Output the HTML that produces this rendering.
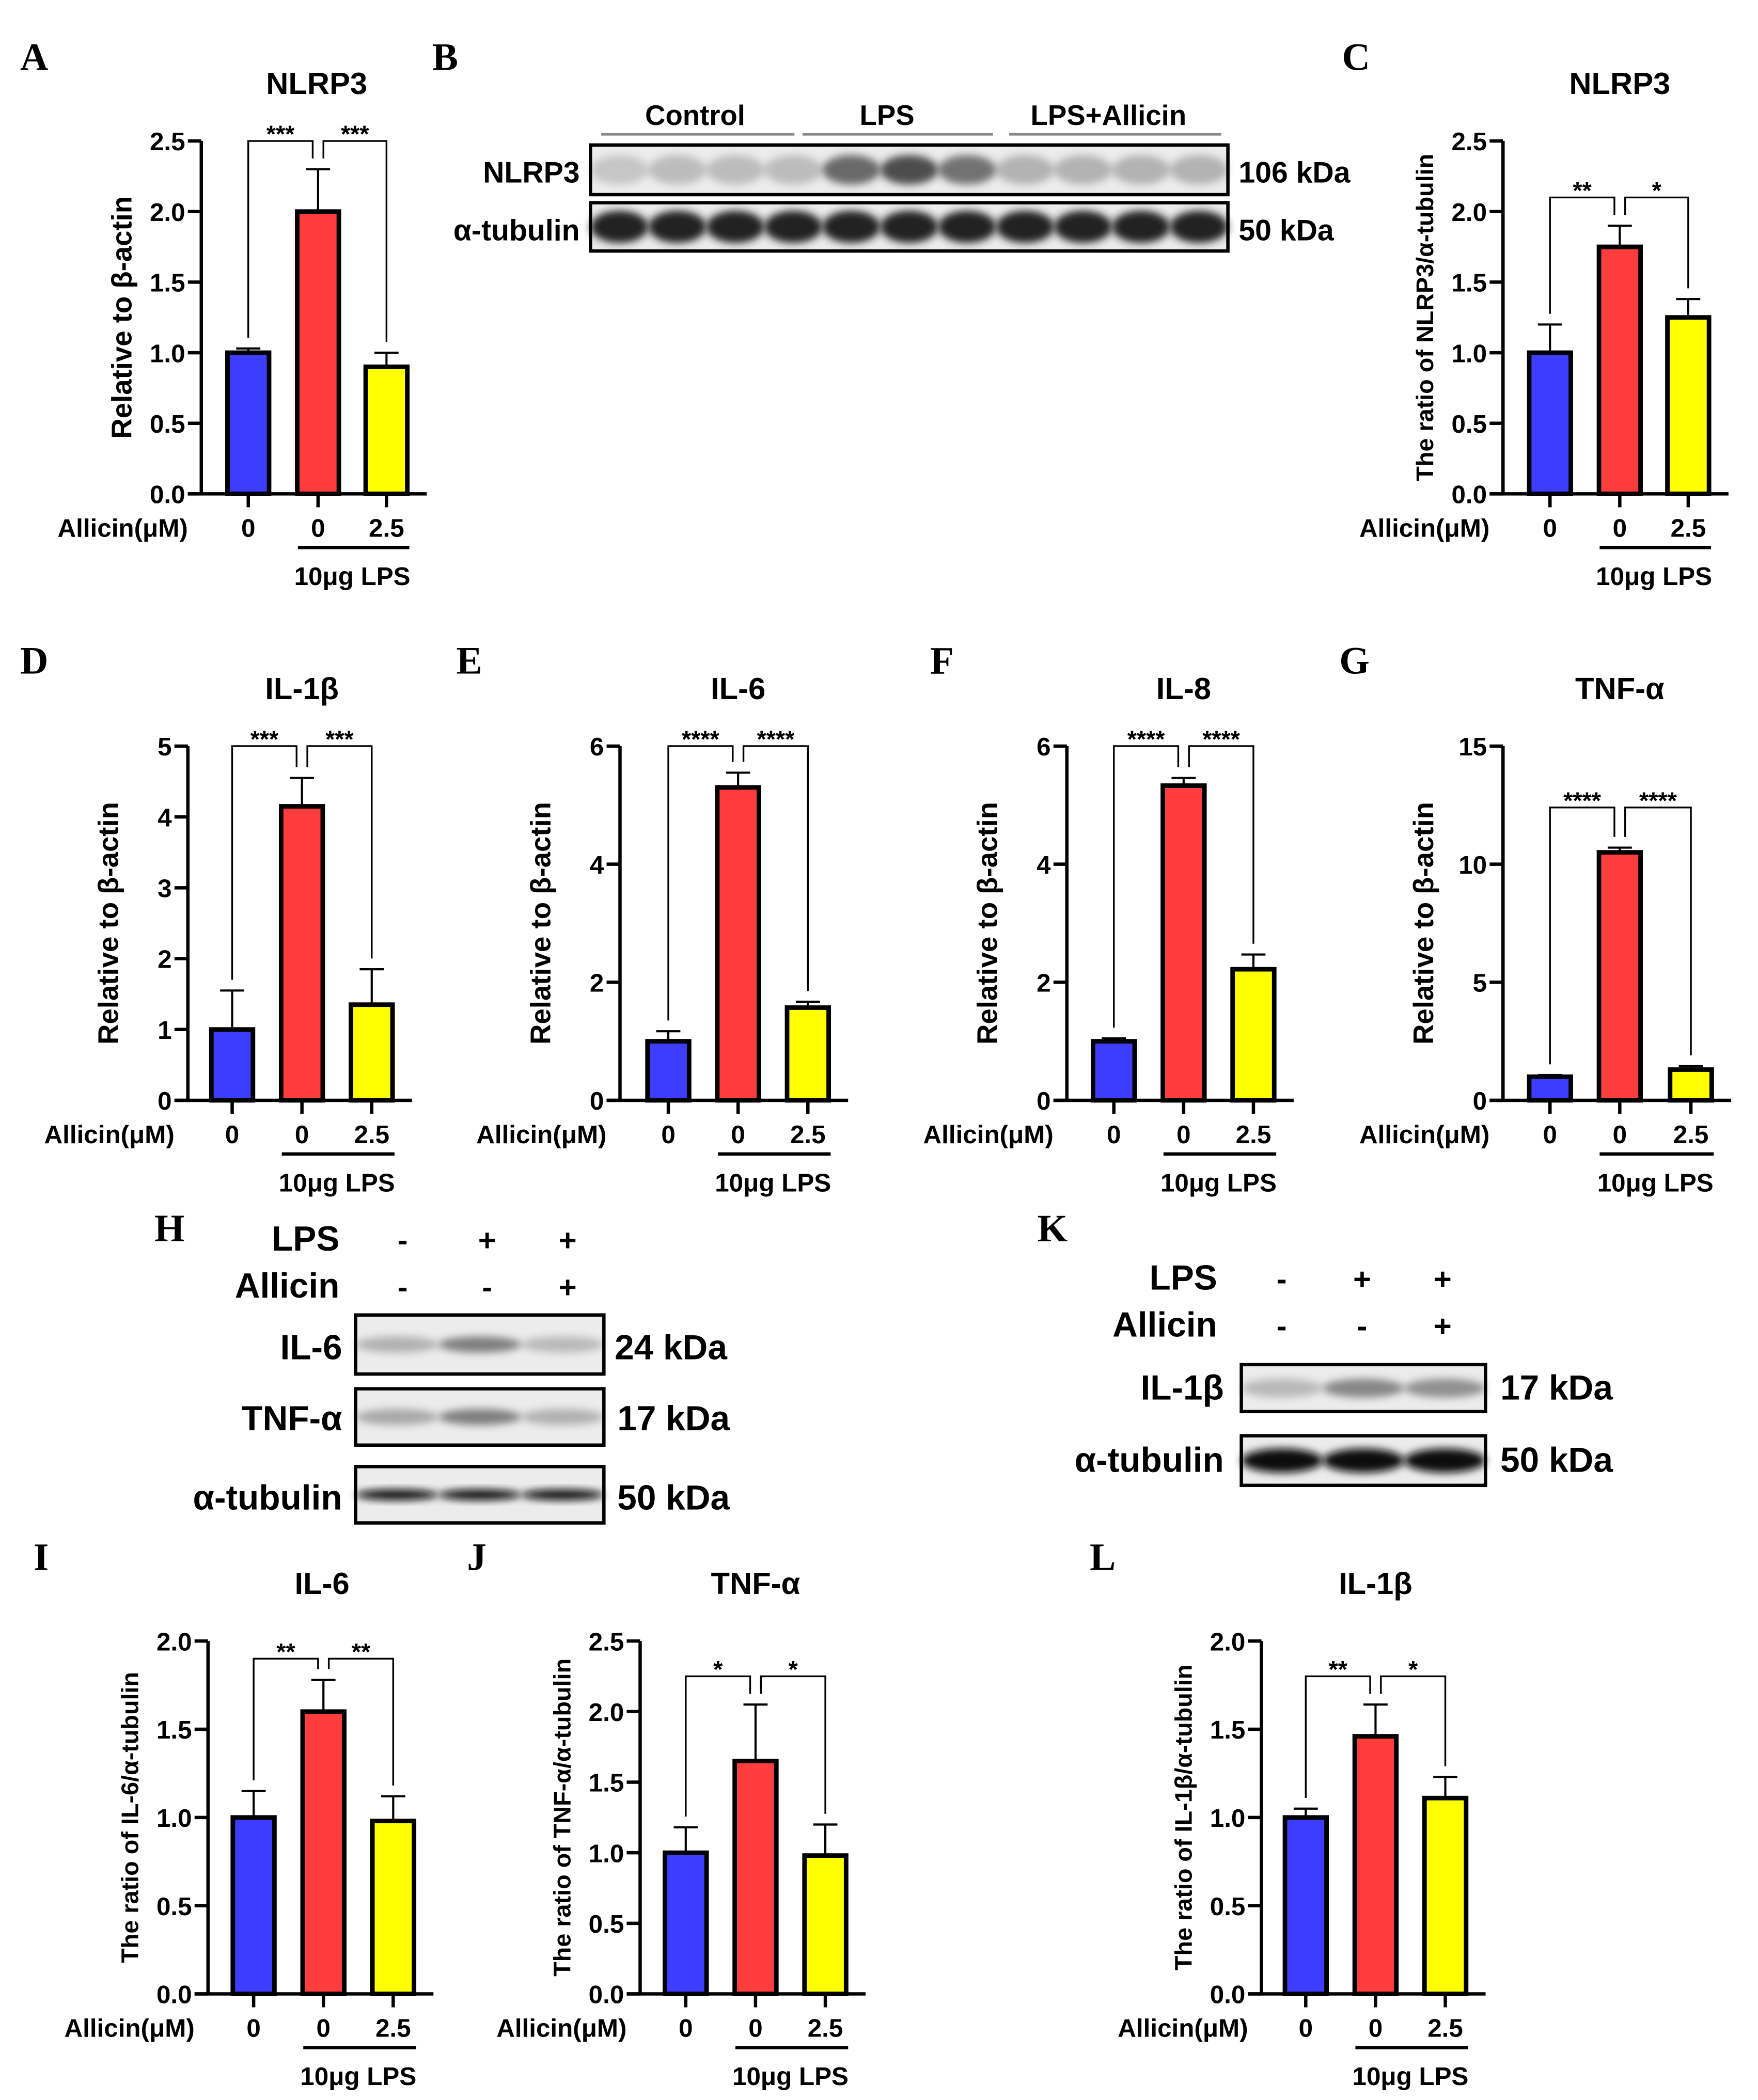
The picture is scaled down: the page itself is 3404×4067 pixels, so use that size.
<!DOCTYPE html>
<html><head><meta charset="utf-8">
<style>
html,body{margin:0;padding:0;background:#fff;}
svg{display:block;}
text{font-family:"Liberation Sans",Arial,sans-serif;font-weight:bold;fill:#000;}
.let{font-family:"Liberation Serif",serif;font-size:29px;}
</style></head>
<body>
<svg id="fig" width="3404" height="4067" viewBox="0 0 1310 1565" xmlns="http://www.w3.org/2000/svg">
<defs>
<filter id="blur" x="-50%" y="-50%" width="200%" height="200%"><feGaussianBlur stdDeviation="3"/></filter>
</defs>
<g id="root"></g>
</svg>
<script>
// ---- data ----
const groupLabels = ["0", "0", "2.5"];
const aValues = [1.0, 2.0, 0.9];
const aErrors = [0.03, 0.3, 0.1];
const aSig = ["***", "***"];
const cValues = [1.0, 1.75, 1.25];
const cErrors = [0.2, 0.15, 0.13];
const cSig = ["**", "*"];
const dValues = [1.0, 4.15, 1.35];
const dErrors = [0.55, 0.4, 0.5];
const dSig = ["***", "***"];
const eValues = [1.0, 5.3, 1.57];
const eErrors = [0.17, 0.25, 0.1];
const eSig = ["****", "****"];
const fValues = [1.0, 5.33, 2.22];
const fErrors = [0.05, 0.13, 0.25];
const fSig = ["****", "****"];
const gValues = [1.0, 10.5, 1.3];
const gErrors = [0.07, 0.2, 0.15];
const gSig = ["****", "****"];
const iValues = [1.0, 1.6, 0.98];
const iErrors = [0.15, 0.18, 0.14];
const iSig = ["**", "**"];
const jValues = [1.0, 1.65, 0.98];
const jErrors = [0.18, 0.4, 0.22];
const jSig = ["*", "*"];
const lValues = [1.0, 1.46, 1.11];
const lErrors = [0.05, 0.18, 0.12];
const lSig = ["**", "*"];
const ticks25 = ["0.0","0.5","1.0","1.5","2.0","2.5"];
const ticks20 = ["0.0","0.5","1.0","1.5","2.0"];
const ticks5 = ["0","1","2","3","4","5"];
const ticks6 = ["0","2","4","6"];
const ticks15 = ["0","5","10","15"];

const NS = "http://www.w3.org/2000/svg";
const root = document.getElementById('root');
function el(tag, attrs, parent, txt){
  const e = document.createElementNS(NS, tag);
  for (const k in attrs) e.setAttribute(k, attrs[k]);
  if (txt !== undefined) e.textContent = txt;
  (parent || root).appendChild(e);
  return e;
}
function txt(x,y,s,size,anchor,parent,extra){
  const a = {x:x,y:y,'font-size':size,'text-anchor':anchor||'middle'};
  if (extra) for (const k in extra) a[k]=extra[k];
  return el('text',a,parent,s);
}
const colors = ["#3d3dff","#ff3d3d","#ffff00"];

function chart(p){
  const g = el('g',{});
  
  
  const y = v => p.y0 - (v / p.max) * (p.y0 - p.yTop);
  const t = txt(p.xc, p.yTop - 35, p.title, 23, 'middle', g);
  
  
  const yl = txt(0,0,p.ylabel,p.ylSize||21,'middle',g,{transform:`translate(${p.ax-52},${(p.y0+p.yTop)/2}) rotate(-90)`});
  
  
  const n = p.ticks.length;
  p.ticks.forEach((lab,i)=>{
    const v = p.max * i/(n-1);
    const yy = y(v);
    el('line',{x1:p.ax-10,x2:p.ax,y1:yy,y2:yy,stroke:'#000','stroke-width':2.5},g);
    const tl = txt(p.ax-12, yy+7, lab, 19, 'end', g);
    
    
  });
  const bw = 31;
  p.values.forEach((v,i)=>{
    const cx = p.bars[i];
    const e = p.errors[i];
    el('line',{x1:cx,x2:cx,y1:y(v),y2:y(v+e),stroke:'#000','stroke-width':1.6},g);
    el('line',{x1:cx-9,x2:cx+9,y1:y(v+e),y2:y(v+e),stroke:'#000','stroke-width':1.6},g);
    const r = el('rect',{x:cx-bw/2,y:y(v),width:bw,height:p.y0-y(v),fill:colors[i],stroke:'#000','stroke-width':3.4},g);
    
    
    el('line',{x1:cx,x2:cx,y1:p.y0,y2:p.y0+10,stroke:'#000','stroke-width':2.5},g);
    const xl = txt(cx, p.y0+32, groupLabels[i], 19, 'middle', g);
    
    
  });
  el('line',{x1:p.ax,x2:p.ax,y1:p.yTop,y2:p.y0+1,stroke:'#000','stroke-width':2.5},g);
  el('line',{x1:p.ax-10,x2:p.bars[2]+30,y1:p.y0,y2:p.y0,stroke:'#000','stroke-width':2.5},g);
  const al = txt(p.ax-10, p.y0+32, 'Allicin(μM)', 19, 'end', g);
  
  
  el('line',{x1:p.bars[1]-15,x2:p.bars[2]+17,y1:p.y0+40,y2:p.y0+40,stroke:'#000','stroke-width':2.5},g);
  const lp = txt((p.bars[1]+p.bars[2])/2, p.y0+68, '10μg LPS', 19, 'middle', g);
  
  
  const by = y(p.brk);
  const gap = 8;
  const pairs = [[0,1],[1,2]];
  pairs.forEach((pr,k)=>{
    const x1 = pr[0]===1 ? p.bars[1]+4 : p.bars[pr[0]];
    const x2 = pr[1]===1 ? p.bars[1]-4 : p.bars[pr[1]];
    const y1 = Math.max(by+3, y(p.values[pr[0]]+p.errors[pr[0]])-gap);
    const y2 = Math.max(by+3, y(p.values[pr[1]]+p.errors[pr[1]])-gap);
    el('polyline',{points:`${x1},${y1} ${x1},${by} ${x2},${by} ${x2},${y2}`,fill:'none',stroke:'#000','stroke-width':1.3},g);
    const s = txt((x1+x2)/2, by+1, p.sig[k], 18, 'middle', g, {'font-weight':'normal'});
    
    
  });
}

chart({name:'chart-a-nlrp3',title:'NLRP3',ylabel:'Relative to β-actin',ax:150,y0:368,yTop:105,max:2.5,ticks:ticks25,bars:[185,237,288],values:aValues,errors:aErrors,sig:aSig,brk:2.5,xc:236});
chart({name:'chart-c-nlrp3-ratio',title:'NLRP3',ylabel:'The ratio of NLRP3/α-tubulin',ylSize:18,ax:1120,y0:368,yTop:105,max:2.5,ticks:ticks25,bars:[1155,1207,1258],values:cValues,errors:cErrors,sig:cSig,brk:2.1,xc:1207});
chart({name:'chart-d-il1b',title:'IL-1β',ylabel:'Relative to β-actin',ax:140,y0:820,yTop:556,max:5,ticks:ticks5,bars:[173,225,277],values:dValues,errors:dErrors,sig:dSig,brk:5,xc:225});
chart({name:'chart-e-il6',title:'IL-6',ylabel:'Relative to β-actin',ax:462,y0:820,yTop:556,max:6,ticks:ticks6,bars:[498,550,602],values:eValues,errors:eErrors,sig:eSig,brk:6,xc:550});
chart({name:'chart-f-il8',title:'IL-8',ylabel:'Relative to β-actin',ax:795,y0:820,yTop:556,max:6,ticks:ticks6,bars:[830,882,934],values:fValues,errors:fErrors,sig:fSig,brk:6,xc:882});
chart({name:'chart-g-tnfa',title:'TNF-α',ylabel:'Relative to β-actin',ax:1120,y0:820,yTop:556,max:15,ticks:ticks15,bars:[1155,1207,1260],values:gValues,errors:gErrors,sig:gSig,brk:12.4,xc:1207});
chart({name:'chart-i-il6-ratio',title:'IL-6',ylabel:'The ratio of IL-6/α-tubulin',ylSize:18,ax:155,y0:1486,yTop:1223,max:2.0,ticks:ticks20,bars:[189,241,293],values:iValues,errors:iErrors,sig:iSig,brk:1.9,xc:240});
chart({name:'chart-j-tnfa-ratio',title:'TNF-α',ylabel:'The ratio of TNF-α/α-tubulin',ylSize:18,ax:477,y0:1486,yTop:1223,max:2.5,ticks:ticks25,bars:[511,563,615],values:jValues,errors:jErrors,sig:jSig,brk:2.25,xc:563});
chart({name:'chart-l-il1b-ratio',title:'IL-1β',ylabel:'The ratio of IL-1β/α-tubulin',ylSize:18,ax:940,y0:1486,yTop:1223,max:2.0,ticks:ticks20,bars:[973,1025,1077],values:lValues,errors:lErrors,sig:lSig,brk:1.8,xc:1025});

[['A',15,52],['B',322,52],['C',1000,52],['D',15,502],['E',340,502],['F',693,502],['G',998,502],['H',115,925],['K',773,925],['I',25,1170],['J',348,1170],['L',812,1170]].forEach(l=>{
  const t = txt(l[1],l[2],l[0],29,'start',root,{class:'let'});
  
  
});

function blot(name,x,y,w,h,lanes,dark,bandH){
  const g = el('g',{});
  
  
  el('rect',{x:x,y:y,width:w,height:h,fill:'#ececec'},g);
  const lw = w/lanes.length;
  lanes.forEach((v,i)=>{
    el('ellipse',{cx:x+lw*(i+0.5),cy:y+h/2,rx:lw*0.5,ry:bandH,fill:dark,opacity:v,filter:'url(#blur)'},g);
  });
  el('rect',{x:x,y:y,width:w,height:h,fill:'none',stroke:'#000','stroke-width':2.5},g);
}
[['Control',518],['LPS',661],['LPS+Allicin',826]].forEach(h=>{
  const t = txt(h[1],93,h[0],21,'middle');
  
  
});
[[448,592],[598,740],[752,910]].forEach(s=>el('line',{x1:s[0],x2:s[1],y1:100,y2:100,stroke:'#888','stroke-width':2}));
blot('blot-b-nlrp3',440,108,475,37,[0.2,0.25,0.25,0.25,0.7,0.85,0.65,0.3,0.3,0.3,0.3],'#333',11);
blot('blot-b-tubulin',440,151,475,36,[1,1,1,1,1,1,1,1,1,1,1],'#222',12);
[['NLRP3',432,136],['α-tubulin',432,179]].forEach(l=>{const t=txt(l[1],l[2],l[0],22,'end');});
[['106 kDa',923,136],['50 kDa',923,179]].forEach(l=>{const t=txt(l[1],l[2],l[0],22,'start');});

[['LPS',932,['-','+','+']],['Allicin',967,['-','-','+']]].forEach(r=>{
  const t = txt(253,r[1],r[0],26,'end');  
  [300,363,423].forEach((x,i)=>{const s=txt(x,r[1],r[2][i],23,'middle');});
});
blot('blot-h-il6',265,980,185,44,[0.35,0.65,0.3],'#444',6);
blot('blot-h-tnfa',265,1035,185,42,[0.4,0.65,0.35],'#444',6);
blot('blot-h-tubulin',265,1093,185,42,[1,1,1],'#111',4);
[['IL-6',255,1013],['TNF-α',255,1066],['α-tubulin',255,1125]].forEach(l=>{const t=txt(l[1],l[2],l[0],26,'end');});
[['24 kDa',458,1013],['17 kDa',460,1066],['50 kDa',460,1125]].forEach(l=>{const t=txt(l[1],l[2],l[0],26,'start');});

[['LPS',961,['-','+','+']],['Allicin',996,['-','-','+']]].forEach(r=>{
  const t = txt(907,r[1],r[0],26,'end');  
  [955,1015,1075].forEach((x,i)=>{const s=txt(x,r[1],r[2][i],23,'middle');});
});
blot('blot-k-il1b',925,1017,182,35,[0.3,0.6,0.55],'#444',7);
blot('blot-k-tubulin',925,1070,182,37,[1,1,1],'#111',9);
[['IL-1β',912,1043],['α-tubulin',912,1097]].forEach(l=>{const t=txt(l[1],l[2],l[0],26,'end');});
[['17 kDa',1118,1043],['50 kDa',1118,1097]].forEach(l=>{const t=txt(l[1],l[2],l[0],26,'start');});
</script>
</body></html>
